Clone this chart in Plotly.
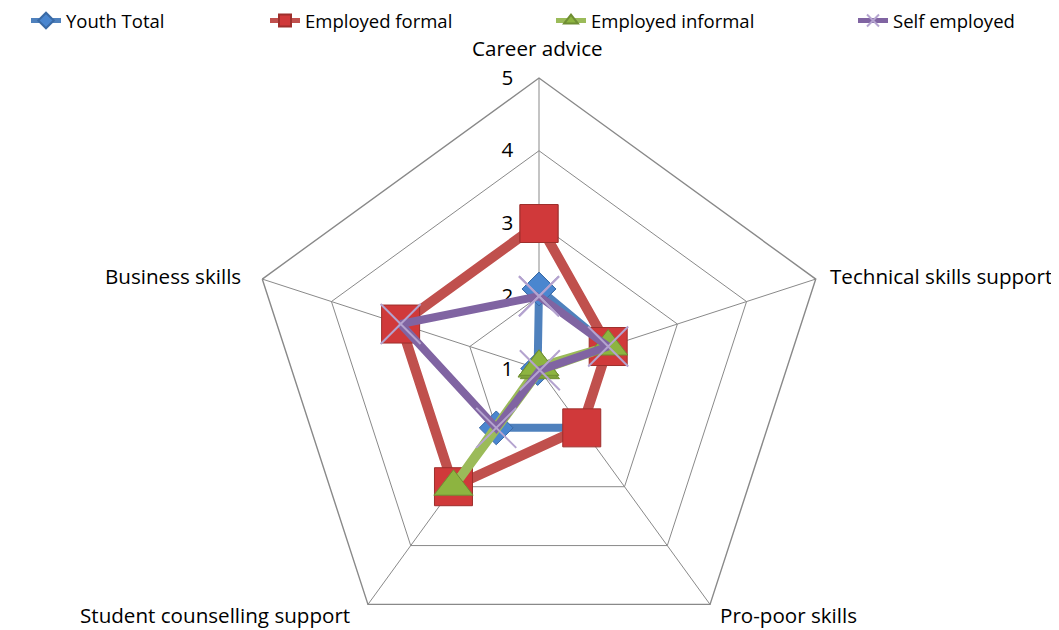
import plotly.graph_objects as go

# radar categories, clockwise from the top
categories = ["Career advice", "Technical skills support", "Pro-poor skills",
              "Student counselling support", "Business skills"]

youth_total = [2.1, 2, 2, 2, 1.02]
employed_formal = [3, 2, 2, 3, 3]
employed_informal = [1.03, 2, 1.02, 3, 1.02]
self_employed = [2, 2, 1.02, 2, 3]

radial_ticks = [1, 2, 3, 4, 5]

W, H = 1059, 662
FONT = "Open Sans"


def closed(vals):
    # repeat the first point so the polygon closes
    return list(vals) + list(vals[:1])


theta = closed(categories)

series = [
    ("Youth Total", youth_total, "#4F81BD", 8,
     dict(symbol="diamond", size=26, color="#4A86CF", line=dict(color="#3A6AA5", width=1))),
    ("Employed formal", employed_formal, "#C0504D", 10,
     dict(symbol="square", size=38, color="#D0393A", line=dict(color="#9E2F2C", width=1))),
    ("Employed informal", employed_informal, "#9BBB59", 9,
     dict(symbol="triangle-up", size=34, color="#8DB440", line=dict(color="#6F8E33", width=1))),
    ("Self employed", self_employed, "#8064A2", 8,
     dict(symbol="x-thin", size=40, color="#B4A3CF", line=dict(color="#B4A3CF", width=2))),
]

# page body adds an 8px offset, so pixel positions below are shifted by it
legend_x = [18, 257, 543, 845]

# category label anchors (pixel x, pixel y, xanchor)
label_pos = [(529, 40, "center"), (820, 268, "left"), (710, 607, "left"),
             (344, 607, "right"), (235, 268, "right")]

fig = go.Figure()
for i, (name, vals, col, lw, mk) in enumerate(series):
    lg = "legend" if i == 0 else "legend%d" % (i + 1)
    fig.add_trace(go.Scatterpolar(
        r=closed(vals), theta=theta, name=name, mode="lines+markers",
        line=dict(color=col, width=lw), marker=mk, legend=lg,
    ))

layout = dict(
    width=W, height=H,
    margin=dict(l=0, r=0, t=0, b=0, autoexpand=False),
    paper_bgcolor="white",
    showlegend=True,
    font=dict(family=FONT, size=20, color="black"),
    polar=dict(
        domain=dict(x=[240 / W, 822 / W], y=[1 - 652 / H, 1 - 70 / H]),
        bgcolor="white",
        gridshape="linear",
        radialaxis=dict(
            range=[1, 5], tickvals=radial_ticks, angle=90, side="counterclockwise",
            tickangle=90, showline=False, ticks="outside", ticklen=18,
            tickcolor="rgba(0,0,0,0)", gridcolor="#898989", gridwidth=1.4,
            tickfont=dict(size=20.6, family=FONT), layer="below traces",
        ),
        angularaxis=dict(
            rotation=90, direction="clockwise", showline=True,
            linecolor="#898989", linewidth=1.4, gridcolor="#898989", gridwidth=1.4,
            ticks="", showticklabels=False, layer="below traces",
        ),
    ),
    annotations=[
        dict(text=cat, x=px / W, y=1 - py / H, xref="paper", yref="paper",
             xanchor=xa, yanchor="middle", showarrow=False,
             font=dict(size=20.6, family=FONT, color="black"))
        for cat, (px, py, xa) in zip(categories, label_pos)
    ],
)
for i, x in enumerate(legend_x):
    key = "legend" if i == 0 else "legend%d" % (i + 1)
    layout[key] = dict(x=x / W, y=1 - 13 / H, xanchor="left", yanchor="middle",
                       orientation="h", itemsizing="constant",
                       bgcolor="rgba(0,0,0,0)", font=dict(size=18.5, family=FONT))
fig.update_layout(**layout)

fig.write_html("out.html")
